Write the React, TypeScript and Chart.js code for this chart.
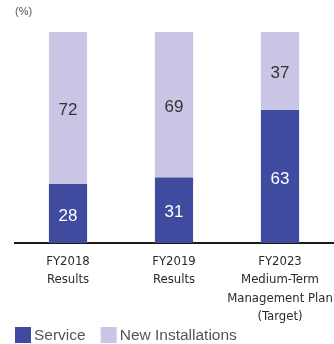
import React, { useEffect, useRef } from "react";
import { Chart, registerables } from "chart.js";

Chart.register(...registerables);

const categories: string[][] = [
  ["FY2018", "Results"],
  ["FY2019", "Results"],
  ["FY2023", "Medium-Term", "Management Plan", "(Target)"],
];
const serviceValues = [28, 31, 63];
const newInstallValues = [72, 69, 37];
const unitLabel = "(%)";

const SERVICE_COLOR = "#3e4b9f";
const NEW_COLOR = "#c8c6e4";
const SANS = "'Liberation Sans', Arial, sans-serif";

const valueLabelPlugin = {
  id: "valueLabels",
  afterDatasetsDraw(chart: any) {
    const ctx = chart.ctx;
    ctx.save();
    ctx.font = "17px " + SANS;
    ctx.textAlign = "center";
    ctx.textBaseline = "middle";
    chart.data.datasets.forEach((ds: any, di: number) => {
      const meta = chart.getDatasetMeta(di);
      meta.data.forEach((bar: any, i: number) => {
        const cy = (bar.y + bar.base) / 2;
        ctx.fillStyle = di === 0 ? "#ffffff" : "#333333";
        ctx.fillText(String(ds.data[i]), bar.x, cy + 2.5);
      });
    });
    ctx.restore();
  },
};

const unitPlugin = {
  id: "unitLabel",
  afterDraw(chart: any) {
    const ctx = chart.ctx;
    ctx.save();
    ctx.font = "11px " + SANS;
    ctx.fillStyle = "#555555";
    ctx.textAlign = "left";
    ctx.textBaseline = "middle";
    ctx.fillText(unitLabel, chart.chartArea.left, 12);
    ctx.restore();
  },
};

const customLegendPlugin = {
  id: "customLegend",
  afterDraw(chart: any) {
    const ctx = chart.ctx;
    ctx.save();
    ctx.font = "15.5px " + SANS;
    ctx.textAlign = "left";
    ctx.textBaseline = "middle";
    const box = 16;
    const boxTop = chart.height - 17;
    const textGap = 3;
    const itemGap = 15;
    let x = chart.chartArea.left;
    chart.data.datasets.forEach((ds: any) => {
      ctx.fillStyle = ds.backgroundColor;
      ctx.fillRect(x, boxTop, box, box);
      x += box + textGap;
      ctx.fillStyle = "#555555";
      ctx.fillText(ds.label, x, boxTop + box / 2 + 1);
      x += ctx.measureText(ds.label).width + itemGap;
    });
    ctx.restore();
  },
};

export default function App() {
  const ref = useRef<HTMLCanvasElement | null>(null);
  useEffect(() => {
    if (!ref.current) return;
    const chart = new Chart(ref.current, {
      type: "bar",
      data: {
        labels: categories,
        datasets: [
          {
            label: "Service",
            data: serviceValues,
            backgroundColor: SERVICE_COLOR,
            borderWidth: 0,
            barPercentage: 0.36,
            categoryPercentage: 1,
          },
          {
            label: "New Installations",
            data: newInstallValues,
            backgroundColor: NEW_COLOR,
            borderWidth: 0,
            barPercentage: 0.36,
            categoryPercentage: 1,
          },
        ],
      },
      options: {
        animation: false,
        responsive: false,
        maintainAspectRatio: false,
        layout: { autoPadding: false, padding: { left: 15, right: 1, top: 32, bottom: 18 } },
        plugins: {
          legend: { display: false },
          tooltip: { enabled: false },
        },
        scales: {
          x: {
            stacked: true,
            grid: { display: false, drawTicks: false },
            border: { display: true, color: "#231815", width: 2 },
            ticks: {
              color: "#2a2a2a",
              padding: 9,
              maxRotation: 0,
              autoSkip: false,
              font: {
                size: 13,
                lineHeight: 1.42,
                family: "'DejaVu Sans Condensed', 'Liberation Sans Narrow', sans-serif",
              },
            },
            afterFit: (s: any) => {
              s.height = 83;
              s.paddingLeft = 0;
              s.paddingRight = 0;
            },
          },
          y: {
            stacked: true,
            display: false,
            min: 0,
            max: 100,
          },
        },
      },
      plugins: [valueLabelPlugin, unitPlugin, customLegendPlugin],
    });
    return () => chart.destroy();
  }, []);
  return (
    <div style={{ position: "absolute", left: 0, top: 0, width: 334, height: 344 }}>
      <canvas ref={ref} width={334} height={344} style={{ width: 334, height: 344 }} />
    </div>
  );
}
